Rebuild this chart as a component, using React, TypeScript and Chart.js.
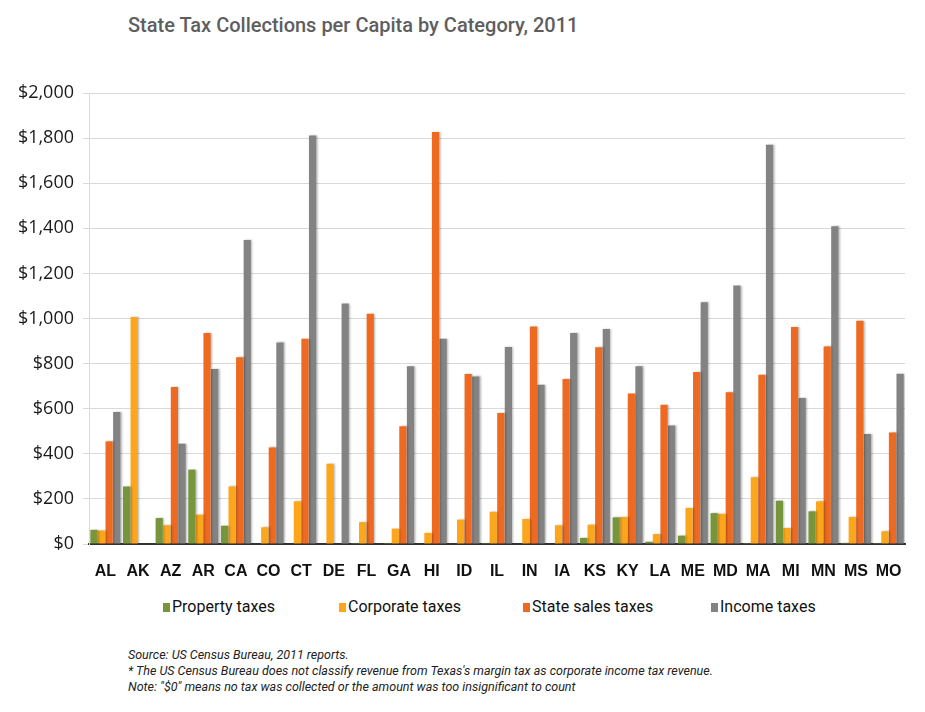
import React, { useEffect, useRef } from "react";
import { Chart, registerables } from "chart.js";

Chart.register(...registerables);

const states = ["AL", "AK", "AZ", "AR", "CA", "CO", "CT", "DE", "FL", "GA", "HI", "ID", "IL", "IN", "IA", "KS", "KY", "LA", "ME", "MD", "MA", "MI", "MN", "MS", "MO"];
const propertyTaxes = [63, 255, 115, 330, 81, 0, 0, 0, 4, 4, 0, 0, 4, 0, 0, 27, 118, 10, 37, 137, 4, 192, 145, 5, 4];
const corporateTaxes = [60, 1007, 83, 130, 255, 74, 189, 356, 97, 68, 49, 108, 143, 111, 83, 86, 120, 44, 160, 134, 296, 71, 189, 120, 56];
const salesTaxes = [455, 0, 696, 936, 828, 428, 910, 0, 1021, 522, 1827, 754, 581, 965, 732, 872, 667, 618, 763, 673, 751, 962, 876, 990, 495];
const incomeTaxes = [585, 0, 445, 776, 1348, 894, 1811, 1066, 0, 788, 910, 743, 874, 706, 936, 953, 788, 526, 1072, 1146, 1770, 647, 1409, 488, 755];
const seriesNames = ["Property taxes", "Corporate taxes", "State sales taxes", "Income taxes"];
const seriesColors = ["#77953b", "#fba61b", "#ee6a21", "#838383"];
const title = "State Tax Collections per Capita by Category, 2011";
const notes = [
  "Source: US Census Bureau, 2011 reports.",
  "* The US Census Bureau does not classify revenue from Texas's margin tax as corporate income tax revenue.",
  "Note: \"$0\" means no tax was collected or the amount was too insignificant to count",
];

const shadowPlugin = {
  id: "barShadow",
  beforeDatasetsDraw(chart: any) {
    const ctx = chart.ctx;
    ctx.save();
    ctx.shadowColor = "rgba(0,0,0,0.28)";
    ctx.shadowBlur = 2;
    ctx.shadowOffsetX = 1.5;
    ctx.shadowOffsetY = 0;
  },
  afterDatasetsDraw(chart: any) {
    chart.ctx.restore();
  },
};

export default function App() {
  const ref = useRef<HTMLCanvasElement | null>(null);
  useEffect(() => {
    if (!ref.current) return;
    const values = [propertyTaxes, corporateTaxes, salesTaxes, incomeTaxes];
    const chart = new Chart(ref.current, {
      type: "bar",
      data: {
        labels: states,
        datasets: seriesNames.map((name, i) => ({
          label: name,
          data: values[i],
          backgroundColor: seriesColors[i],
          borderWidth: 0,
          categoryPercentage: 0.93,
          barPercentage: 0.95,
        })),
      },
      plugins: [shadowPlugin],
      options: {
        responsive: false,
        animation: false,
        devicePixelRatio: 1,
        layout: { padding: { top: 93, right: 20, left: 0, bottom: 0 } },
        plugins: {
          legend: { display: false },
          title: { display: false },
          tooltip: { enabled: false },
        },
        scales: {
          x: {
            grid: { display: false },
            border: { display: true, color: "#333333", width: 2 },
            ticks: {
              color: "#111111",
              font: { family: "Liberation Sans", size: 16, weight: "bold" },
              padding: 10,
              maxRotation: 0,
              autoSkip: false,
            },
            afterFit(scale: any) {
              scale.height = 46;
            },
          },
          y: {
            min: 0,
            max: 2000,
            ticks: {
              stepSize: 200,
              color: "#1a1a1a",
              padding: 9,
              font: { family: "Open Sans", size: 18 },
              callback: (v: any) => "$" + Number(v).toLocaleString("en-US"),
            },
            grid: { color: "#d9d9d9", lineWidth: 1, tickLength: 6 },
            border: { display: true, color: "#d9d9d9", width: 1 },
            afterFit(scale: any) {
              scale.width = 89;
            },
          },
        },
      },
    });
    return () => chart.destroy();
  }, []);

  const legendX = [163, 339, 523, 711];
  return (
    <div style={{ position: "absolute", left: 0, top: 0, width: 925, height: 712, background: "#ffffff", overflow: "hidden" }}>
      <div style={{ position: "absolute", left: 128, top: 12, fontFamily: "Roboto", fontWeight: 500, fontSize: 20, color: "#5e5e5e", whiteSpace: "nowrap", lineHeight: "26px" }}>
        {title}
      </div>
      <canvas ref={ref} width={925} height={590} style={{ position: "absolute", left: 0, top: 0, width: 925, height: 590 }} />
      {seriesNames.map((name, i) => (
        <div key={name} style={{ position: "absolute", left: legendX[i], top: 597, display: "flex", alignItems: "flex-start", whiteSpace: "nowrap" }}>
          <span style={{ display: "inline-block", width: 7, height: 9, marginTop: 6, background: seriesColors[i] }} />
          <span style={{ fontFamily: "Roboto", fontSize: 16, color: "#111", marginLeft: 2, lineHeight: "20px" }}>{name}</span>
        </div>
      ))}
      {notes.map((n, i) => (
        <div key={i} style={{ position: "absolute", left: 128, top: 647 + i * 16, fontFamily: "Roboto", fontStyle: "italic", fontSize: 12.5, color: "#222", whiteSpace: "nowrap", lineHeight: "16px" }}>
          {n}
        </div>
      ))}
    </div>
  );
}
